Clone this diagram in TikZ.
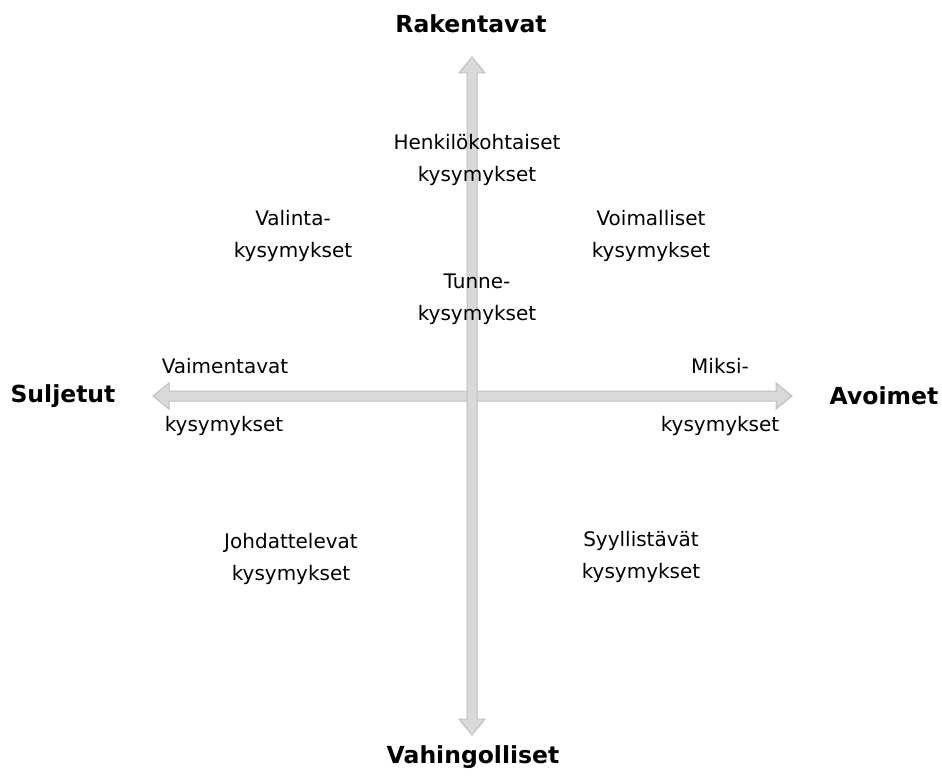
\documentclass[tikz,border=0pt]{standalone}
\usepackage{fontspec}
\setmainfont{DejaVu Sans}
\begin{document}
\begin{tikzpicture}[x=1pt,y=-1pt,
  axisarrow/.style={fill=axisfill,draw=axisline,line width=1pt,line join=miter},
  lbl/.style={align=center,font=\fontsize{20pt}{32pt}\selectfont,inner sep=0pt,text=black},
  pole/.style={font=\fontsize{23.5pt}{26pt}\selectfont\bfseries,inner sep=0pt,text=black}]
\definecolor{axisfill}{HTML}{D9D9D9}
\definecolor{axisline}{HTML}{BFBFBF}
\useasboundingbox (0,0) rectangle (942,778);
% horizontal axis
\draw[axisarrow] (153,396) -- (169,383) -- (169,391) -- (776,391) -- (776,383) -- (792,396)
  -- (776,409) -- (776,401) -- (169,401) -- (169,409) -- cycle;
% vertical axis
\draw[axisarrow] (472,57) -- (485,73) -- (477,73) -- (477,719) -- (485,719) -- (472,735)
  -- (459,719) -- (467,719) -- (467,73) -- (459,73) -- cycle;
% poles
\node[pole] (rak) at (471,24) {Rakentavat};
\node[pole] (vah) at (473,757) {Vahingolliset};
\node[pole] (sul) at (63,396) {Suljetut};
\node[pole] (avo) at (884,396) {Avoimet};
% labels
\node[lbl] (hen) at (477,160) {Henkilökohtaiset\\kysymykset};
\node[lbl] (val) at (293,236) {Valinta-\\kysymykset};
\node[lbl] (voi) at (651,236) {Voimalliset\\kysymykset};
\node[lbl] (tun) at (477,299) {Tunne-\\kysymykset};
\node[lbl] (vai1) at (225,366) {Vaimentavat};
\node[lbl] (vai2) at (224,426) {kysymykset};
\node[lbl] (mik1) at (720,366) {Miksi-};
\node[lbl] (mik2) at (720,426) {kysymykset};
\node[lbl] (joh) at (291,559) {Johdattelevat\\kysymykset};
\node[lbl] (syy) at (641,557) {Syyllistävät\\kysymykset};
\end{tikzpicture}
\end{document}
